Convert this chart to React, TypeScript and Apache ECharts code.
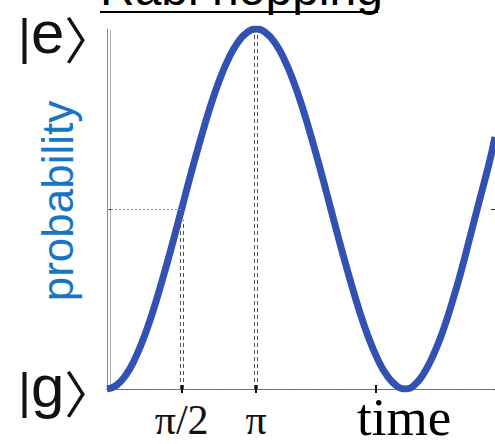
import React, { useEffect, useRef } from "react";
import * as echarts from "echarts";

// Pulse area (in units of π) and excited-state probability
const pulseArea = [
  0, 0.0625, 0.125, 0.1875, 0.25, 0.3125, 0.375, 0.4375, 0.5, 0.5625, 0.625, 0.6875, 0.75, 0.8125, 0.875, 0.9375,
  1, 1.0625, 1.125, 1.1875, 1.25, 1.3125, 1.375, 1.4375, 1.5, 1.5625, 1.625, 1.6875, 1.75, 1.8125, 1.875, 1.9375,
  2, 2.0625, 2.125, 2.1875, 2.25, 2.3125, 2.375, 2.4375, 2.5, 2.5625, 2.6,
];
const probability = [
  0, 0.01, 0.038, 0.084, 0.146, 0.222, 0.309, 0.402, 0.5, 0.598, 0.691, 0.778, 0.854, 0.916, 0.962, 0.99,
  1, 0.99, 0.962, 0.916, 0.854, 0.778, 0.691, 0.598, 0.5, 0.402, 0.309, 0.222, 0.146, 0.084, 0.038, 0.01,
  0, 0.012, 0.045, 0.095, 0.16, 0.24, 0.33, 0.43, 0.53, 0.63, 0.7,
];

// Axis marks
const tickValues = [0.5, 1, 1.8];
const labelValues = [0.5, 1];
const labelTexts: Record<string, string> = { "0.5": "π/2", "1": "π" };

export default function App() {
  const ref = useRef<HTMLDivElement>(null);

  useEffect(() => {
    const chart = echarts.init(ref.current!, undefined, { renderer: "svg" });
    const points = pulseArea.map((t, i) => [t, probability[i]]);
    const dashStyle = { color: "#555", type: [4, 3] as any, width: 1 };
    // Dirac ket: bar, state letter and closing angle bracket in one rich text
    const ket = (x: number, y: number, letter: string) => ({
      type: "text",
      x: x,
      y: y,
      style: {
        text: `{b||}{l|${letter}}{r|〉}`,
        fill: "#111",
        verticalAlign: "middle",
        rich: {
          b: { fontFamily: "Liberation Sans", fontSize: 50, verticalAlign: "bottom", fill: "#111" },
          l: { fontFamily: "Liberation Sans", fontSize: 60, verticalAlign: "bottom", fill: "#111" },
          r: { fontFamily: "Noto Sans CJK JP", fontSize: 50, verticalAlign: "bottom", fill: "#111" },
        },
      },
    });

    chart.setOption({
      animation: false,
      backgroundColor: "#fff",
      grid: { left: 107, top: 29, width: 390, height: 360 },
      xAxis: [
        {
          type: "value",
          min: 0,
          max: 2.6,
          position: "bottom",
          splitLine: { show: false },
          axisLine: { show: true, lineStyle: { color: "#222", type: [2, 1], width: 1 } },
          axisTick: { show: true, inside: true, length: 4, customValues: tickValues, lineStyle: { color: "#111", width: 2 } },
          axisLabel: {
            show: true,
            customValues: labelValues,
            margin: 10,
            formatter: (v: number) => labelTexts[String(v)] ?? "",
            fontFamily: "Liberation Serif",
            fontSize: 42,
            color: "#111",
          },
        },
        {
          type: "value",
          min: 0,
          max: 2.6,
          position: "top",
          splitLine: { show: false },
          axisLine: { show: true, lineStyle: { color: "#777", type: [3, 1], width: 1 } },
          axisTick: { show: true, inside: true, length: 4, customValues: tickValues, lineStyle: { color: "#111", width: 2 } },
          axisLabel: { show: false },
        },
      ],
      yAxis: [
        {
          type: "value",
          min: 0,
          max: 1,
          position: "left",
          splitLine: { show: false },
          axisLine: { show: true, lineStyle: { color: "#888", width: 1 } },
          axisTick: { show: true, inside: true, length: 4, customValues: [0.5], lineStyle: { color: "#333" } },
          axisLabel: { show: false },
        },
        {
          type: "value",
          min: 0,
          max: 1,
          position: "left",
          offset: -3,
          splitLine: { show: false },
          axisLine: { show: true, lineStyle: { color: "#aaa", type: [3, 1], width: 1 } },
          axisTick: { show: false },
          axisLabel: { show: false },
        },
        {
          type: "value",
          min: 0,
          max: 1,
          position: "right",
          splitLine: { show: false },
          axisLine: { show: true, lineStyle: { color: "#888" } },
          axisTick: { show: true, inside: true, length: 4, customValues: [0.5], lineStyle: { color: "#333" } },
          axisLabel: { show: false },
        },
      ],
      series: [
        {
          type: "line",
          data: points,
          smooth: true,
          showSymbol: false,
          lineStyle: { color: "#3152b3", width: 7 },
          z: 3,
          markLine: {
            silent: true,
            symbol: "none",
            label: { show: false },
            lineStyle: dashStyle,
            data: [
              [{ coord: [0.49, 0] }, { coord: [0.49, 0.47] }],
              [{ coord: [0.51, 0] }, { coord: [0.51, 0.47] }],
              [{ coord: [0.99, 0] }, { coord: [0.99, 1] }],
              [{ coord: [1.01, 0] }, { coord: [1.01, 1] }],
              [
                { coord: [0, 0.5], lineStyle: { color: "#999", type: [2, 2], width: 1 } },
                { coord: [0.5, 0.5] },
              ],
            ],
          },
        },
      ],
      graphic: [
        {
          type: "text",
          left: 100,
          top: -36,
          style: { text: "Rabi hopping", font: "48px 'Liberation Sans'", fill: "#000" },
        },
        {
          type: "line",
          shape: { x1: 100, y1: 12, x2: 378, y2: 12 },
          style: { stroke: "#000", lineWidth: 2 },
        },
        ket(18, 32, "e"),
        ket(18, 386, "g"),
        {
          type: "text",
          x: 57,
          y: 201,
          rotation: Math.PI / 2,
          style: {
            text: "probability",
            font: "44px 'Liberation Sans'",
            fill: "#1a74c6",
            align: "center",
            verticalAlign: "middle",
          },
        },
        {
          type: "text",
          left: 357,
          top: 390,
          style: { text: "time", font: "53px 'Liberation Serif'", fill: "#000" },
        },
      ],
    });

    return () => chart.dispose();
  }, []);

  return (
    <div
      ref={ref}
      style={{ position: "fixed", left: 0, top: 0, width: 495, height: 444 }}
    />
  );
}
